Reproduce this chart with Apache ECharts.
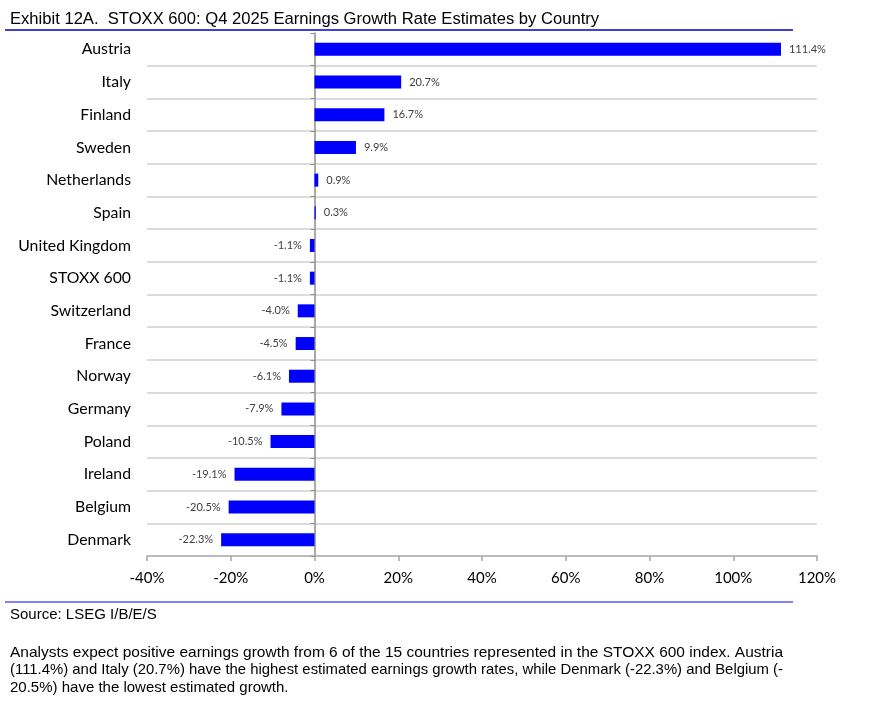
<!DOCTYPE html>
<html><head><meta charset="utf-8">
<script src="https://cdn.jsdelivr.net/npm/echarts@6/dist/echarts.min.js"></script>
<style>html,body{margin:0;padding:0;background:#fff}#c{width:877px;height:701px}</style>
</head><body><div id="c"></div>
<script>
const countries = ['Austria','Italy','Finland','Sweden','Netherlands','Spain','United Kingdom','STOXX 600','Switzerland','France','Norway','Germany','Poland','Ireland','Belgium','Denmark'];
const growth = [111.4,20.7,16.7,9.9,0.9,0.3,-1.1,-1.1,-4.0,-4.5,-6.1,-7.9,-10.5,-19.1,-20.5,-22.3];
const xTicks = {min:-40,max:120,interval:20};
const titleText = 'Exhibit 12A.  STOXX 600: Q4 2025 Earnings Growth Rate Estimates by Country';
const sourceText = 'Source: LSEG I/B/E/S';
const noteLines = [
 'Analysts expect positive earnings growth from 6 of the 15 countries represented in the STOXX 600 index. Austria',
 '(111.4%) and Italy (20.7%) have the highest estimated earnings growth rates, while Denmark (-22.3%) and Belgium (-',
 '20.5%) have the lowest estimated growth.'
];

const bodyFont = '15px "Liberation Sans", Arial, sans-serif';
const ctx = document.createElement('canvas').getContext('2d');
ctx.font = bodyFont;
const justifyWidth = 773;
const noteGraphics = noteLines.map((t,i)=>{
  const w = ctx.measureText(t).width;
  const sx = (i < noteLines.length-1 && w > 0) ? justifyWidth / w : 1;
  return {type:'text',x:10,y:645+i*17.5,scaleX:sx,style:{text:t,font:bodyFont,fill:'#000'}};
});

const chart = echarts.init(document.getElementById('c'), null, {renderer:'canvas'});
const labFont = 'Lato, "Open Sans", sans-serif';
chart.setOption({
  animation:false,
  grid:{left:147,right:60,top:33,bottom:145,containLabel:false},
  xAxis:{type:'value',min:xTicks.min,max:xTicks.max,interval:xTicks.interval,
    axisLine:{show:true,onZero:false,lineStyle:{color:'#a6a6a6',width:1.5}},
    axisTick:{show:true,length:5,lineStyle:{color:'#a6a6a6',width:1.5}},
    splitLine:{show:false},
    axisLabel:{formatter:v=>v+'%',color:'#000',fontSize:15,fontFamily:labFont,margin:15}},
  yAxis:[
   {type:'category',data:countries,inverse:true,
    axisLine:{show:true,onZero:true,lineStyle:{color:'#8c8c8c',width:1.5}},
    axisTick:{show:true,length:4,lineStyle:{color:'#8c8c8c'}},
    axisLabel:{show:false},
    splitLine:{show:true,showMinLine:false,showMaxLine:false,lineStyle:{color:'#d0d0d0',width:1.5}}},
   {type:'category',data:countries,inverse:true,position:'left',
    axisLine:{show:false,onZero:false},axisTick:{show:false},splitLine:{show:false},
    axisLabel:{color:'#000',fontSize:15.8,fontFamily:labFont,margin:16}}
  ],
  series:[{type:'bar',yAxisIndex:0,barWidth:13,
    itemStyle:{color:'#0000ff'},
    data:growth.map(v=>({value:v,label:{position:v>=0?'right':'left'}})),
    label:{show:true,distance:8,fontSize:11,fontFamily:labFont,color:'#404040',
      formatter:p=>p.value.toFixed(1)+'%'}
  }],
  graphic:[
    {type:'text',left:10,top:11,style:{text:titleText,font:'16.6px "Liberation Sans", Arial, sans-serif',fill:'#000'}},
    {type:'line',shape:{x1:5,y1:30,x2:793,y2:30},style:{stroke:'#0000cc',lineWidth:1.5}},
    {type:'line',shape:{x1:5,y1:602,x2:793,y2:602},style:{stroke:'#0000ff',lineWidth:1.2}},
    {type:'text',left:10,top:607,style:{text:sourceText,font:bodyFont,fill:'#000'}}
  ].concat(noteGraphics)
});
</script></body></html>
